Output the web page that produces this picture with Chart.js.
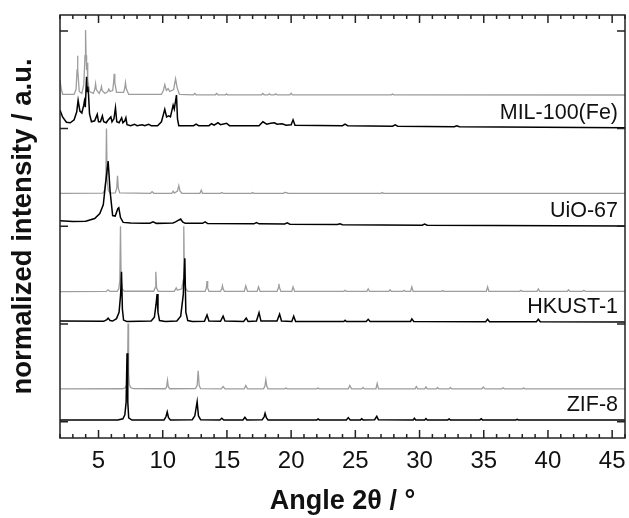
<!DOCTYPE html>
<html>
<head>
<meta charset="utf-8">
<script src="https://cdn.jsdelivr.net/npm/chart.js@4/dist/chart.umd.min.js"></script>
<style>
  html, body { margin: 0; padding: 0; background: #fff; }
  #wrap { width: 629px; height: 518px; position: relative; }
</style>
</head>
<body>
<div id="wrap"><canvas id="chart"></canvas></div>
<script>
const NAMES = ['ZIF-8', 'HKUST-1', 'UiO-67', 'MIL-100(Fe)'];
const X_TICKS = [5, 10, 15, 20, 25, 30, 35, 40, 45];
const Y_TICKS = [0, 1, 2, 3, 4];

// [2theta, normalized intensity incl. stacking offset]
const ZIF8_SIM = [[2, 0.335], [6.9, 0.337], [7.1, 0.35], [7.2, 0.38], [7.26, 0.5], [7.3, 1.005], [7.34, 0.5], [7.4, 0.38], [7.5, 0.35], [7.7, 0.338],
  [10.2, 0.337], [10.3, 0.355], [10.37, 0.425], [10.44, 0.355], [10.55, 0.337],
  [12.55, 0.338], [12.68, 0.37], [12.76, 0.52], [12.84, 0.37], [12.95, 0.338],
  [14.55, 0.336], [14.7, 0.36], [14.85, 0.336], [16.35, 0.336], [16.47, 0.37], [16.6, 0.336],
  [17.85, 0.337], [17.96, 0.365], [18.03, 0.43], [18.1, 0.365], [18.2, 0.337],
  [19.5, 0.336], [19.6, 0.345], [19.7, 0.336], [22.0, 0.336], [22.1, 0.345], [22.2, 0.336],
  [24.45, 0.336], [24.57, 0.37], [24.7, 0.336], [25.5, 0.336], [25.6, 0.35], [25.7, 0.336],
  [26.6, 0.336], [26.7, 0.39], [26.8, 0.336], [29.65, 0.336], [29.75, 0.36], [29.85, 0.336],
  [30.4, 0.336], [30.5, 0.355], [30.6, 0.336], [31.3, 0.336], [31.4, 0.35], [31.5, 0.336],
  [32.3, 0.336], [32.4, 0.35], [32.5, 0.336], [34.85, 0.336], [34.96, 0.355], [35.1, 0.336],
  [36.4, 0.336], [36.5, 0.347], [36.6, 0.336], [38.0, 0.336], [38.1, 0.345], [38.2, 0.336], [46, 0.336]];

const ZIF8_EXP = [[2, 0.018], [6.5, 0.018], [6.9, 0.03], [7.05, 0.07], [7.15, 0.2], [7.22, 0.70], [7.28, 0.2], [7.35, 0.04], [7.6, 0.017],
  [10.1, 0.018], [10.25, 0.05], [10.35, 0.10], [10.45, 0.04], [10.6, 0.017],
  [12.3, 0.02], [12.5, 0.06], [12.68, 0.205], [12.78, 0.06], [12.95, 0.02],
  [14.45, 0.017], [14.6, 0.035], [14.75, 0.017], [16.25, 0.018], [16.4, 0.045], [16.55, 0.018],
  [17.75, 0.02], [17.9, 0.05], [17.97, 0.086], [18.07, 0.04], [18.2, 0.018],
  [22.0, 0.018], [22.1, 0.028], [22.2, 0.018], [24.3, 0.018], [24.45, 0.042], [24.6, 0.018],
  [25.4, 0.018], [25.5, 0.03], [25.6, 0.018], [26.5, 0.02], [26.67, 0.055], [26.8, 0.02],
  [29.5, 0.018], [29.6, 0.035], [29.7, 0.018], [30.4, 0.018], [30.5, 0.032], [30.6, 0.018],
  [32.2, 0.018], [32.3, 0.028], [32.4, 0.018], [34.7, 0.018], [34.8, 0.03], [34.9, 0.018],
  [37.5, 0.018], [37.6, 0.024], [37.7, 0.018], [46, 0.016]];

const HKUST1_SIM = [[2, 1.332], [5.6, 1.333], [5.75, 1.35], [5.9, 1.333], [6.45, 1.335], [6.58, 1.36], [6.66, 1.45], [6.71, 2.0], [6.76, 1.45], [6.84, 1.36], [7.0, 1.335],
  [9.3, 1.335], [9.4, 1.37], [9.46, 1.535], [9.52, 1.37], [9.65, 1.334],
  [10.9, 1.335], [11.05, 1.37], [11.15, 1.345], [11.48, 1.36], [11.59, 1.45], [11.64, 2.0], [11.69, 1.45], [11.8, 1.36], [11.95, 1.335],
  [13.3, 1.334], [13.4, 1.37], [13.45, 1.44], [13.5, 1.37], [13.6, 1.334],
  [14.5, 1.334], [14.6, 1.36], [14.65, 1.392], [14.7, 1.36], [14.8, 1.334],
  [16.35, 1.333], [16.47, 1.39], [16.6, 1.333], [17.35, 1.333], [17.46, 1.38], [17.58, 1.333],
  [18.9, 1.334], [19.0, 1.37], [19.04, 1.41], [19.1, 1.37], [19.2, 1.334],
  [20.05, 1.333], [20.15, 1.38], [20.27, 1.333], [24.1, 1.334], [24.2, 1.345], [24.3, 1.334],
  [25.9, 1.334], [26.0, 1.36], [26.1, 1.334], [27.6, 1.334], [27.7, 1.35], [27.8, 1.334],
  [28.7, 1.334], [28.8, 1.345], [28.9, 1.334], [29.3, 1.334], [29.4, 1.38], [29.5, 1.334],
  [31.7, 1.334], [31.8, 1.342], [31.9, 1.334], [35.2, 1.334], [35.3, 1.38], [35.4, 1.334],
  [37.8, 1.334], [37.9, 1.345], [38.0, 1.334], [39.15, 1.334], [39.25, 1.36], [39.35, 1.334],
  [41.5, 1.334], [41.6, 1.35], [41.7, 1.334], [42.7, 1.334], [42.8, 1.345], [42.9, 1.334], [46, 1.333]];

const HKUST1_EXP = [[2, 1.03], [5.4, 1.027], [5.65, 1.045], [5.75, 1.06], [5.9, 1.035], [6.1, 1.03], [6.4, 1.055], [6.6, 1.12], [6.72, 1.3], [6.79, 1.535], [6.86, 1.15], [6.95, 1.04], [7.2, 1.026],
  [9.1, 1.03], [9.35, 1.07], [9.48, 1.2], [9.56, 1.307], [9.63, 1.12], [9.75, 1.035], [10.2, 1.026],
  [11.1, 1.03], [11.4, 1.08], [11.6, 1.3], [11.72, 1.672], [11.8, 1.12], [11.95, 1.035], [12.3, 1.026],
  [13.25, 1.028], [13.45, 1.092], [13.6, 1.03], [14.5, 1.028], [14.7, 1.08], [14.85, 1.03],
  [16.3, 1.026], [16.5, 1.06], [16.65, 1.026], [17.3, 1.03], [17.5, 1.116], [17.65, 1.03],
  [18.9, 1.03], [19.1, 1.10], [19.25, 1.03], [20.05, 1.026], [20.2, 1.08], [20.35, 1.026],
  [24.1, 1.026], [24.2, 1.038], [24.3, 1.026], [25.85, 1.026], [26.0, 1.048], [26.15, 1.026],
  [29.3, 1.026], [29.4, 1.052], [29.55, 1.026], [35.15, 1.024], [35.3, 1.048], [35.45, 1.024],
  [39.1, 1.024], [39.25, 1.048], [39.4, 1.024], [46, 1.02]];

const UIO67_SIM = [[2, 2.338], [5.35, 2.34], [5.48, 2.37], [5.57, 2.48], [5.62, 3.0], [5.67, 2.48], [5.76, 2.37], [5.9, 2.34],
  [6.3, 2.342], [6.42, 2.39], [6.48, 2.518], [6.54, 2.39], [6.65, 2.342],
  [9.05, 2.338], [9.17, 2.355], [9.3, 2.338], [10.7, 2.338], [10.81, 2.36], [10.9, 2.34],
  [11.15, 2.36], [11.25, 2.416], [11.35, 2.36], [11.5, 2.338], [12.9, 2.338], [13.0, 2.37], [13.1, 2.338],
  [14.5, 2.338], [14.6, 2.346], [14.7, 2.338], [16.9, 2.338], [17.0, 2.345], [17.1, 2.338],
  [19.4, 2.338], [19.5, 2.346], [19.65, 2.345], [19.75, 2.338], [27.0, 2.338], [27.1, 2.345], [27.2, 2.338], [46, 2.338]];

const UIO67_EXP = [[2, 2.058], [3, 2.05], [4, 2.052], [4.7, 2.08], [5.1, 2.13], [5.37, 2.22], [5.55, 2.44], [5.75, 2.668], [5.9, 2.36], [6.1, 2.11], [6.3, 2.105],
  [6.5, 2.18], [6.58, 2.19], [6.71, 2.09], [6.92, 2.04], [7.5, 2.033], [8.5, 2.03],
  [9.0, 2.032], [9.25, 2.045], [9.5, 2.03], [10.8, 2.035], [11.0, 2.045], [11.2, 2.06], [11.4, 2.075], [11.55, 2.045], [11.75, 2.03],
  [13.1, 2.03], [13.3, 2.045], [13.5, 2.028], [17.1, 2.025], [17.3, 2.037], [17.5, 2.025],
  [19.5, 2.024], [19.7, 2.035], [19.9, 2.022], [23.6, 2.018], [23.8, 2.026], [24.0, 2.017],
  [30.2, 2.012], [30.4, 2.024], [30.6, 2.012], [46, 2.003]];

const MIL100_SIM = [[2.0, 3.50], [2.08, 3.42], [2.2, 3.35], [3.1, 3.35], [3.25, 3.40], [3.33, 3.60], [3.36, 3.746], [3.4, 3.6], [3.5, 3.38],
  [3.7, 3.36], [3.85, 3.45], [3.95, 3.75], [3.99, 4.01], [4.03, 3.75], [4.07, 3.6], [4.11, 3.675], [4.16, 3.5], [4.3, 3.38],
  [4.6, 3.36], [4.72, 3.41], [4.77, 3.46], [4.83, 3.40], [5.05, 3.36], [5.18, 3.40], [5.23, 3.43], [5.28, 3.39],
  [5.5, 3.36], [5.72, 3.38], [5.8, 3.405], [5.9, 3.38], [6.1, 3.39], [6.18, 3.48], [6.22, 3.56], [6.27, 3.47], [6.4, 3.37],
  [6.95, 3.37], [7.05, 3.42], [7.1, 3.47], [7.16, 3.41], [7.35, 3.35], [9.9, 3.35], [10.05, 3.39], [10.16, 3.45], [10.28, 3.39],
  [10.42, 3.41], [10.55, 3.38], [10.85, 3.40], [11.0, 3.51], [11.12, 3.42], [11.3, 3.35],
  [12.4, 3.346], [12.5, 3.36], [12.6, 3.346], [14.1, 3.346], [14.2, 3.36], [14.3, 3.346], [14.9, 3.346], [14.97, 3.356], [15.05, 3.346],
  [17.7, 3.346], [17.8, 3.36], [17.9, 3.346], [18.2, 3.346], [18.3, 3.356], [18.4, 3.346], [18.7, 3.346], [18.8, 3.356], [18.9, 3.346],
  [19.9, 3.346], [20.0, 3.362], [20.1, 3.346], [27.8, 3.345], [27.9, 3.353], [28.0, 3.345], [46, 3.344]];

const MIL100_EXP = [[2.0, 3.19], [2.2, 3.12], [2.5, 3.065], [2.8, 3.06], [3.1, 3.09], [3.3, 3.17], [3.41, 3.29], [3.55, 3.18], [3.7, 3.16],
  [3.85, 3.24], [3.9, 3.28], [3.97, 3.22], [4.07, 3.53], [4.12, 3.38], [4.17, 3.43], [4.22, 3.35], [4.3, 3.15], [4.45, 3.07],
  [4.7, 3.08], [4.9, 3.146], [5.0, 3.07], [5.15, 3.07], [5.3, 3.13], [5.4, 3.07], [5.6, 3.06], [5.7, 3.08], [5.96, 3.12], [6.05, 3.07],
  [6.2, 3.1], [6.32, 3.214], [6.42, 3.07], [6.6, 3.06], [6.8, 3.11], [6.9, 3.06], [7.05, 3.08], [7.13, 3.11], [7.22, 3.04],
  [7.5, 3.03], [7.8, 3.045], [8.0, 3.03], [8.4, 3.04], [8.6, 3.03], [8.9, 3.045], [9.1, 3.03], [9.6, 3.03], [9.9, 3.07],
  [10.16, 3.197], [10.3, 3.12], [10.47, 3.13], [10.6, 3.12], [10.81, 3.24], [10.9, 3.2], [11.07, 3.344], [11.15, 3.1], [11.25, 3.03],
  [12.4, 3.03], [12.6, 3.045], [12.8, 3.03], [13.6, 3.03], [13.8, 3.05], [14.0, 3.035], [14.3, 3.06], [14.5, 3.04], [14.97, 3.055], [15.2, 3.03],
  [17.5, 3.03], [17.8, 3.07], [18.1, 3.045], [18.4, 3.055], [18.7, 3.06], [18.9, 3.045], [19.3, 3.05], [19.6, 3.035],
  [20.0, 3.04], [20.15, 3.09], [20.3, 3.035], [24.0, 3.03], [24.2, 3.045], [24.4, 3.03], [27.9, 3.025], [28.1, 3.038], [28.3, 3.025],
  [32.7, 3.02], [32.9, 3.03], [33.1, 3.02], [46, 3.01]];

const MEASURED = [ZIF8_EXP, HKUST1_EXP, UIO67_EXP, MIL100_EXP];
const SIMULATED = [ZIF8_SIM, HKUST1_SIM, UIO67_SIM, MIL100_SIM];

const FONT = "'Liberation Sans', Arial, Helvetica, sans-serif";
const toPts = arr => arr.map(p => ({ x: p[0], y: p[1] }));

const datasets = [];
MEASURED.forEach((d, i) => datasets.push({
  label: NAMES[i] + ' measured', data: toPts(d), borderColor: '#000', borderWidth: 1.5
}));
SIMULATED.forEach((d, i) => datasets.push({
  label: NAMES[i] + ' simulated', data: toPts(d), borderColor: '#9d9d9d', borderWidth: 1.3
}));

// frame with inward ticks + sample labels
const frame = {
  id: 'frame',
  afterDatasetsDraw(chart) {
    const { ctx, chartArea: a, scales: { x, y } } = chart;
    ctx.save();
    ctx.strokeStyle = '#222';
    ctx.lineWidth = 1.5;
    ctx.strokeRect(a.left, a.top, a.right - a.left, a.bottom - a.top);
    ctx.beginPath();
    for (let v = 2; v <= 46; v++) {
      const px = x.getPixelForValue(v);
      const len = X_TICKS.includes(v) ? 8 : 4;
      ctx.moveTo(px, a.bottom); ctx.lineTo(px, a.bottom - len);
      ctx.moveTo(px, a.top); ctx.lineTo(px, a.top + len);
    }
    Y_TICKS.forEach(v => {
      const py = y.getPixelForValue(v);
      ctx.moveTo(a.left, py); ctx.lineTo(a.left + 8, py);
      ctx.moveTo(a.right, py); ctx.lineTo(a.right - 8, py);
    });
    ctx.stroke();

    ctx.fillStyle = '#111';
    ctx.font = '21.5px ' + FONT;
    ctx.textAlign = 'right';
    ctx.textBaseline = 'alphabetic';
    MEASURED.forEach((d, i) => {
      const py = y.getPixelForValue(d[d.length - 1][1]);
      ctx.fillText(NAMES[i], a.right - 7, py - 9);
    });
    ctx.restore();
  }
};

new Chart(document.getElementById('chart'), {
  type: 'line',
  data: { datasets },
  options: {
    responsive: true,
    maintainAspectRatio: false,
    animation: false,
    elements: { point: { radius: 0 }, line: { tension: 0 } },
    layout: { padding: { top: 15, right: 4, left: 0, bottom: 0 } },
    plugins: { legend: { display: false }, tooltip: { enabled: false } },
    scales: {
      x: {
        type: 'linear',
        min: 2,
        max: 46,
        afterBuildTicks: s => { s.ticks = X_TICKS.map(v => ({ value: v })); },
        afterFit: s => { s.height = 80; s.paddingLeft = 0; s.paddingRight = 0; },
        grid: { display: false, drawTicks: false },
        border: { display: false },
        ticks: { color: '#111', padding: 9, font: { family: FONT, size: 24 }, maxRotation: 0 },
        title: {
          display: true, text: 'Angle 2θ / °', color: '#111',
          font: { family: FONT, size: 27, weight: 'bold' }, padding: { top: 0, bottom: 0 }
        }
      },
      y: {
        type: 'linear',
        min: -0.167,
        max: 4.163,
        afterBuildTicks: s => { s.ticks = Y_TICKS.map(v => ({ value: v })); },
        afterFit: s => { s.width = 60; s.paddingTop = 0; s.paddingBottom = 0; },
        grid: { display: false, drawTicks: false },
        border: { display: false },
        ticks: { display: false },
        title: {
          display: true, text: 'normalized intensity / a.u.', color: '#111',
          font: { family: FONT, size: 27.5, weight: 'bold' }, padding: { top: 7, bottom: 0 }
        }
      }
    }
  },
  plugins: [frame]
});
</script>
</body>
</html>
